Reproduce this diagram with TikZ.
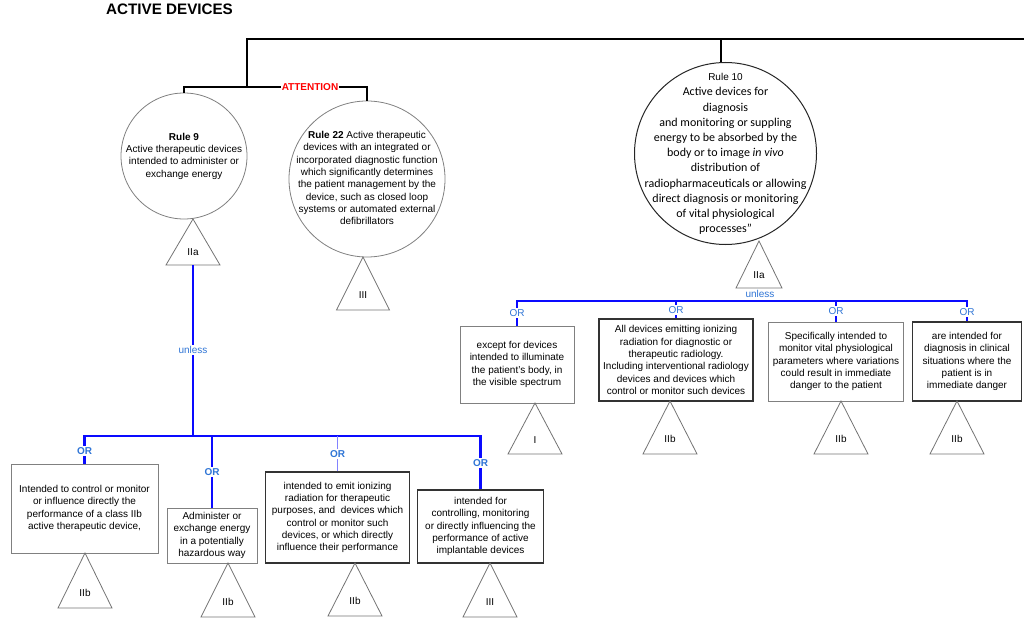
\documentclass[tikz,border=0pt]{standalone}
\usepackage{fontspec}
\setmainfont{Liberation Sans}
\newfontfamily\calibri{Carlito}
\definecolor{orblue}{RGB}{47,117,214}
\definecolor{lineblue}{RGB}{10,10,255}
\definecolor{thinblue}{RGB}{130,130,255}
\newcommand\mytri[6]{%
  \draw[tri] (#2,#3) -- (#2+#4,#3+#5) -- (#2-#4,#3+#5) -- cycle;
  \node[txt] (#1) at (#2,#3+0.72*#5) {#6};}
\begin{document}
\begin{tikzpicture}[x=1pt,y=-1pt,
  txt/.style={font=\fontsize{10}{12.3}\selectfont, align=center, inner sep=0pt},
  boxg/.style={draw=black!50, line width=0.8pt, fill=white, align=center, inner sep=0pt, font=\fontsize{10}{12.3}\selectfont},
  boxd/.style={draw=black!80, line width=1.2pt, fill=white, align=center, inner sep=0pt, font=\fontsize{10}{12.3}\selectfont},
  circg/.style={circle, draw=black!50, line width=0.8pt, inner sep=0pt},
  tri/.style={draw=black!55, line width=0.8pt},
  blk/.style={line width=2.6pt, draw=black},
  blu/.style={line width=2.2pt, draw=lineblue},
  orb/.style={fill=white, text=orblue, font=\bfseries\fontsize{10}{12}\selectfont, inner sep=1pt},
  orr/.style={fill=white, text=orblue, font=\fontsize{10}{12}\selectfont, inner sep=1pt},
]
\useasboundingbox (0,0) rectangle (1024,620);

\node[font=\bfseries\fontsize{15.2}{16}\selectfont, anchor=west, inner sep=0pt] (title) at (106,9) {ACTIVE DEVICES};

% circles
\node[circg, minimum size=126] (r9) at (184,156) {};
\node[txt] (r9t) at (184,156) {\textbf{Rule 9}\\Active therapeutic devices\\intended to administer or\\exchange energy};
\node[circg, minimum size=156] (r22) at (367,179) {};
\node[txt] (r22t) at (367,178) {\textbf{Rule 22} Active therapeutic\\devices with an integrated or\\incorporated diagnostic function\\which significantly determines\\the patient management by the\\device, such as closed loop\\systems or automated external\\defibrillators};
\node[circle, draw=black!85, line width=1pt, inner sep=0pt, minimum size=182] (r10) at (725.5,153.5) {};
\node[align=center, inner sep=0pt, font=\calibri\fontsize{12}{15.2}\selectfont] (r10t) at (725.5,154)
 {{\rmfamily\fontsize{10}{15.2}\selectfont Rule 10}\\Active devices for\\diagnosis\\and monitoring or suppling\\energy to be absorbed by the\\body or to image \textit{in vivo}\\distribution of\\radiopharmaceuticals or allowing\\direct diagnosis or monitoring\\of vital physiological\\processes”};

% top connectors
\coordinate (e) at (1024,39);
\coordinate (j1) at (247,39);
\coordinate (j2) at (247,87);
\coordinate (j3) at (721,39);
\draw[blk] (e) -- (j1) -- (j2);
\draw[blk] (j3) -- (j3 |- r10.north);
\node[text=red, font=\bfseries\fontsize{10}{12}\selectfont, inner sep=1pt] (att) at (310,87) {ATTENTION};
\draw[blk] (att.west) -| (r9.north);
\draw[blk] (att.east) -| (r22.north);

% triangles of circles
\mytri{t9}{193}{219}{27}{46}{IIa}
\coordinate (t9b) at (193,265);
\mytri{t22}{363}{257}{26.5}{53}{III}
\mytri{t10}{759}{241}{23}{47}{IIa}

% right branch
\node[boxg, minimum width=114, minimum height=77] (R1) at (517,364.5) {except for devices\\intended to illuminate\\the patient's body, in\\the visible spectrum};
\node[boxd, minimum width=154, minimum height=82] (R2) at (676,360) {All devices emitting ionizing\\radiation for diagnostic or\\therapeutic radiology.\\Including interventional radiology\\devices and devices which\\control or monitor such devices};
\node[boxg, minimum width=135, minimum height=79] (R3) at (836,361.5) {Specifically intended to\\monitor vital physiological\\parameters where variations\\could result in immediate\\danger to the patient};
\node[boxd, minimum width=109, minimum height=79] (R4) at (967,361.5) {are intended for\\diagnosis in clinical\\situations where the\\patient is in\\immediate danger};
\coordinate (ru) at (760,301);
\draw[blu] (R1.north) |- (ru) -| (R4.north);
\draw[blu] (R2.north) -- (R2.north |- ru);
\draw[blu] (R3.north) -- (R3.north |- ru);
\node[orr] (u10) at (760,294) {unless};
\node[orr] (o1) at (517,313) {OR};
\node[orr] (o2) at (676,310) {OR};
\node[orr] (o3) at (836,311) {OR};
\node[orr] (o4) at (967,312) {OR};
\mytri{tr1}{535}{403}{27}{51}{I}
\mytri{tr2}{670}{401}{27}{53}{IIb}
\mytri{tr3}{841}{401}{27}{53}{IIb}
\mytri{tr4}{957}{401}{27}{53}{IIb}

% left branch
\node[boxg, minimum width=147, minimum height=89] (L1) at (84.5,508.5) {Intended to control or monitor\\or influence directly the\\performance of a class IIb\\active therapeutic device,};
\node[boxg, minimum width=90, minimum height=55] (L2) at (212,535.5) {Administer or\\exchange energy\\in a potentially\\hazardous way};
\node[boxd, minimum width=144, minimum height=91] (L3) at (337.5,517.5) {intended to emit ionizing\\radiation for therapeutic\\purposes, and\ \ devices which\\control or monitor such\\devices, or which directly\\influence their performance};
\node[boxd, minimum width=126, minimum height=73] (L4) at (480.5,526.5) {intended for\\controlling, monitoring\\or directly influencing the\\performance of active\\implantable devices};
\coordinate (lu) at (193,436);
\draw[blu] (t9b) -- (lu);
\draw[blu] (L1.north) |- (lu) -| (L4.north);
\draw[blu] (L2.north) -- (L2.north |- lu);
\draw[line width=1pt, draw=thinblue] (L3.north) -- (L3.north |- lu);
\node[orr] (u9) at (193,350) {unless};
\node[orb] (p1) at (84.5,451) {OR};
\node[orb] (p2) at (212,472) {OR};
\node[orb] (p3) at (337.5,454) {OR};
\node[orb] (p4) at (480.5,463) {OR};
\mytri{tl1}{85}{553}{27}{55}{IIb}
\mytri{tl2}{228}{563}{27}{54}{IIb}
\mytri{tl3}{355}{563}{27}{53}{IIb}
\mytri{tl4}{490}{563}{27}{54}{III}
\end{tikzpicture}
\end{document}
